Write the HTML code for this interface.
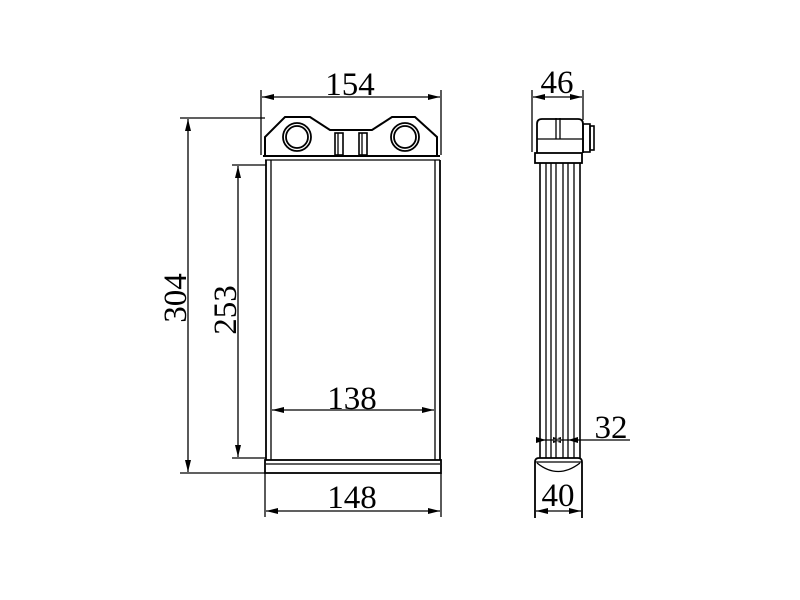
<!DOCTYPE html>
<html><head><style>body{margin:0;background:#fff}svg{display:block}</style></head><body>
<svg width="800" height="600" viewBox="0 0 800 600" xmlns="http://www.w3.org/2000/svg">
<defs><marker id="a" markerWidth="12" markerHeight="6" refX="12" refY="3" orient="auto-start-reverse" markerUnits="userSpaceOnUse"><path d="M0,0 L12,3 L0,6 z" fill="#000"/></marker></defs>
<g stroke="#000" stroke-width="1.3" fill="none">
<line x1="261" y1="90" x2="261" y2="155"/><line x1="441" y1="90" x2="441" y2="155"/>
<line x1="262" y1="97" x2="440" y2="97" marker-start="url(#a)" marker-end="url(#a)"/>
<path d="M265,156 L265,137 L285,117 L310,117 L330,130 L372,130 L392,117 L415,117 L437,137 L437,156" stroke-width="2"/>
<line x1="263" y1="156" x2="440" y2="156" stroke-width="2"/>
<line x1="265" y1="160" x2="440" y2="160"/>
<circle cx="297" cy="137" r="14" stroke-width="1.8"/><circle cx="297" cy="137" r="11" stroke-width="1.8"/>
<circle cx="405" cy="137" r="14" stroke-width="1.8"/><circle cx="405" cy="137" r="11" stroke-width="1.8"/>
<rect x="335" y="133" width="8" height="22" stroke-width="1.6"/><rect x="359" y="133" width="8" height="22" stroke-width="1.6"/>
<line x1="338" y1="133" x2="338" y2="155"/><line x1="362" y1="133" x2="362" y2="155"/>
<line x1="266" y1="160" x2="266" y2="460" stroke-width="1.8"/><line x1="271" y1="160" x2="271" y2="460"/>
<line x1="440" y1="160" x2="440" y2="460" stroke-width="1.8"/><line x1="435" y1="160" x2="435" y2="460"/>
<rect x="265" y="460" width="176" height="13" stroke-width="1.8"/>
<line x1="266" y1="464" x2="440" y2="464"/>
<line x1="265" y1="473" x2="265" y2="517"/><line x1="441" y1="473" x2="441" y2="517"/>
<line x1="266" y1="511" x2="440" y2="511" marker-start="url(#a)" marker-end="url(#a)"/>
<line x1="272" y1="410" x2="434" y2="410" marker-start="url(#a)" marker-end="url(#a)"/>
<line x1="180" y1="118" x2="265" y2="118"/><line x1="180" y1="473" x2="265" y2="473"/>
<line x1="188" y1="119" x2="188" y2="472" marker-start="url(#a)" marker-end="url(#a)"/>
<line x1="232" y1="165" x2="266" y2="165"/><line x1="232" y1="458" x2="266" y2="458"/>
<line x1="238" y1="166" x2="238" y2="457" marker-start="url(#a)" marker-end="url(#a)"/>
<line x1="532" y1="90" x2="532" y2="152"/><line x1="583" y1="90" x2="583" y2="120"/>
<line x1="533" y1="97" x2="582" y2="97" marker-start="url(#a)" marker-end="url(#a)"/>
<path d="M537,153 L537,124 Q537,119 542,119 L578,119 Q583,119 583,124 L583,153" stroke-width="1.8"/>
<line x1="537" y1="139" x2="583" y2="139"/>
<line x1="556" y1="118" x2="556" y2="139"/><line x1="560" y1="118" x2="560" y2="139"/>
<rect x="583" y="124" width="7" height="28" stroke-width="1.6"/><rect x="590" y="126" width="4" height="24" stroke-width="1.6"/>
<rect x="535" y="153" width="47" height="10" stroke-width="1.8"/>
<line x1="540" y1="163" x2="540" y2="458" stroke-width="1.6"/><line x1="546" y1="163" x2="546" y2="458"/>
<line x1="551" y1="163" x2="551" y2="458"/><line x1="556" y1="163" x2="556" y2="458"/>
<line x1="563" y1="163" x2="563" y2="458"/><line x1="568" y1="163" x2="568" y2="458"/>
<line x1="574" y1="163" x2="574" y2="458"/><line x1="580" y1="163" x2="580" y2="458" stroke-width="1.6"/>
<path d="M535,518 L535,462 Q535,458 539,458 L578,458 Q582,458 582,462 L582,518" stroke-width="1.8"/>
<line x1="535" y1="462" x2="582" y2="462"/>
<path d="M537,463 Q558,480 580,463"/>
<line x1="536" y1="511" x2="581" y2="511" marker-start="url(#a)" marker-end="url(#a)"/>
<line x1="540" y1="440" x2="630" y2="440"/>
<path d="M546,440 L536,437 L536,443z M551,440 L561,437 L561,443z M563,440 L553,437 L553,443z M568,440 L578,437 L578,443z" fill="#000" stroke="none"/>
</g>
<g font-family="Liberation Serif, serif" font-size="33" fill="#000" text-anchor="middle">
<text x="350" y="95">154</text>
<text x="352" y="508">148</text>
<text x="352" y="409">138</text>
<text x="557" y="93">46</text>
<text x="558" y="506">40</text>
<text x="611" y="438">32</text>
<text transform="translate(186,298) rotate(-90)">304</text>
<text transform="translate(236,310) rotate(-90)">253</text>
</g>
</svg>
</body></html>
